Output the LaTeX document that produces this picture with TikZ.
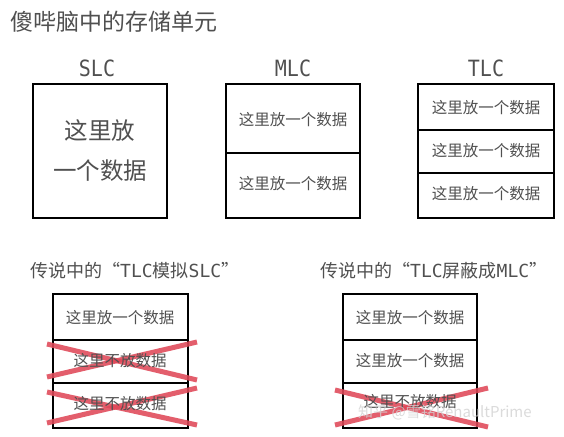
\documentclass[tikz,border=0pt]{standalone}
\usepackage{fontspec}
\setmainfont{Noto Sans CJK SC}
\newfontfamily\cjkf{Noto Sans CJK SC}
\newfontfamily\monof{DejaVu Sans Mono}
\definecolor{txtgray}{RGB}{80,80,80}
\definecolor{crossred}{RGB}{224,72,88}
\tikzset{
  cellbox/.style={draw=black, line width=1.8pt},
  divider/.style={draw=black, line width=1.3pt},
  celltext/.style={font=\cjkf\fontsize{15.5}{16}\selectfont, text=txtgray, inner sep=0pt},
  bigtext/.style={font=\cjkf\fontsize{23.5}{40}\selectfont, text=txtgray, inner sep=0pt, align=center},
  kindlabel/.style={font=\monof\fontsize{20}{22}\selectfont, text=txtgray, inner sep=0pt, yscale=1.12},
  headtext/.style={font=\cjkf\fontsize{18}{20}\selectfont, text=txtgray, inner sep=0pt, anchor=west},
  crossline/.style={draw=crossred, line width=5pt, opacity=0.88},
  wmark/.style={font=\fontsize{15}{16}\selectfont, text=gray!35, opacity=0.8, inner sep=0pt, anchor=west}
}
\begin{document}
\begin{tikzpicture}[x=1pt,y=-1pt]
\useasboundingbox (0,0) rectangle (564,436);
\fill[white] (0,0) rectangle (564,436);
% title
\node[font=\cjkf\fontsize{23}{25}\selectfont, text=txtgray, inner sep=0pt, anchor=west] (title) at (10,22) {傻哔脑中的存储单元};
% labels
\node[kindlabel] (slcl) at (97,68) {SLC};
\node[kindlabel] (mlcl) at (293,68) {MLC};
\node[kindlabel] (tlcl) at (486,68) {TLC};
% SLC
\draw[cellbox] (33,84) rectangle (167,218);
\node[bigtext] (slct) at (100,151) {这里放\\一个数据};
% MLC
\draw[cellbox] (226,84) rectangle (360,218);
\draw[divider] (226,153) -- (360,153);
\node[celltext] (m1) at (293,120) {这里放一个数据};
\node[celltext] (m2) at (293,184) {这里放一个数据};
% TLC
\draw[cellbox] (418,84) rectangle (554,218);
\draw[divider] (418,130) -- (554,130);
\draw[divider] (418,173) -- (554,173);
\node[celltext] (t1) at (486,108) {这里放一个数据};
\node[celltext] (t2) at (486,151) {这里放一个数据};
\node[celltext] (t3) at (486,194) {这里放一个数据};
% bottom-left
\node[headtext] (h1) at (30,271) {传说中的“{\monof TLC}模拟{\monof SLC}”};
\draw[cellbox] (53,294) rectangle (188,428);
\draw[divider] (53,340) -- (188,340);
\draw[divider] (53,383) -- (188,383);
\draw[crossline] (47,344) -- (197,380);
\draw[crossline] (47,377) -- (197,342);
\draw[crossline] (47,392) -- (197,425);
\draw[crossline] (47,423) -- (197,388);
\node[celltext] (b1) at (120,318) {这里放一个数据};
\node[celltext] (b2) at (120,361) {这里不放数据};
\node[celltext] (b3) at (120,404) {这里不放数据};
% bottom-right
\node[headtext] (h2) at (320,271) {传说中的“{\monof TLC}屏蔽成{\monof MLC}”};
\draw[cellbox] (343,294) rectangle (477,428);
\draw[divider] (343,340) -- (477,340);
\draw[divider] (343,383) -- (477,383);
\draw[crossline] (335,390) -- (488,427);
\draw[crossline] (335,425) -- (488,388);
\node[celltext] (c1) at (410,318) {这里放一个数据};
\node[celltext] (c2) at (410,361) {这里放一个数据};
\node[celltext] (c3) at (410,402) {这里不放数据};
\node[wmark] (wm) at (358,412) {知乎 @雪铭RenaultPrime};
\end{tikzpicture}
\end{document}
